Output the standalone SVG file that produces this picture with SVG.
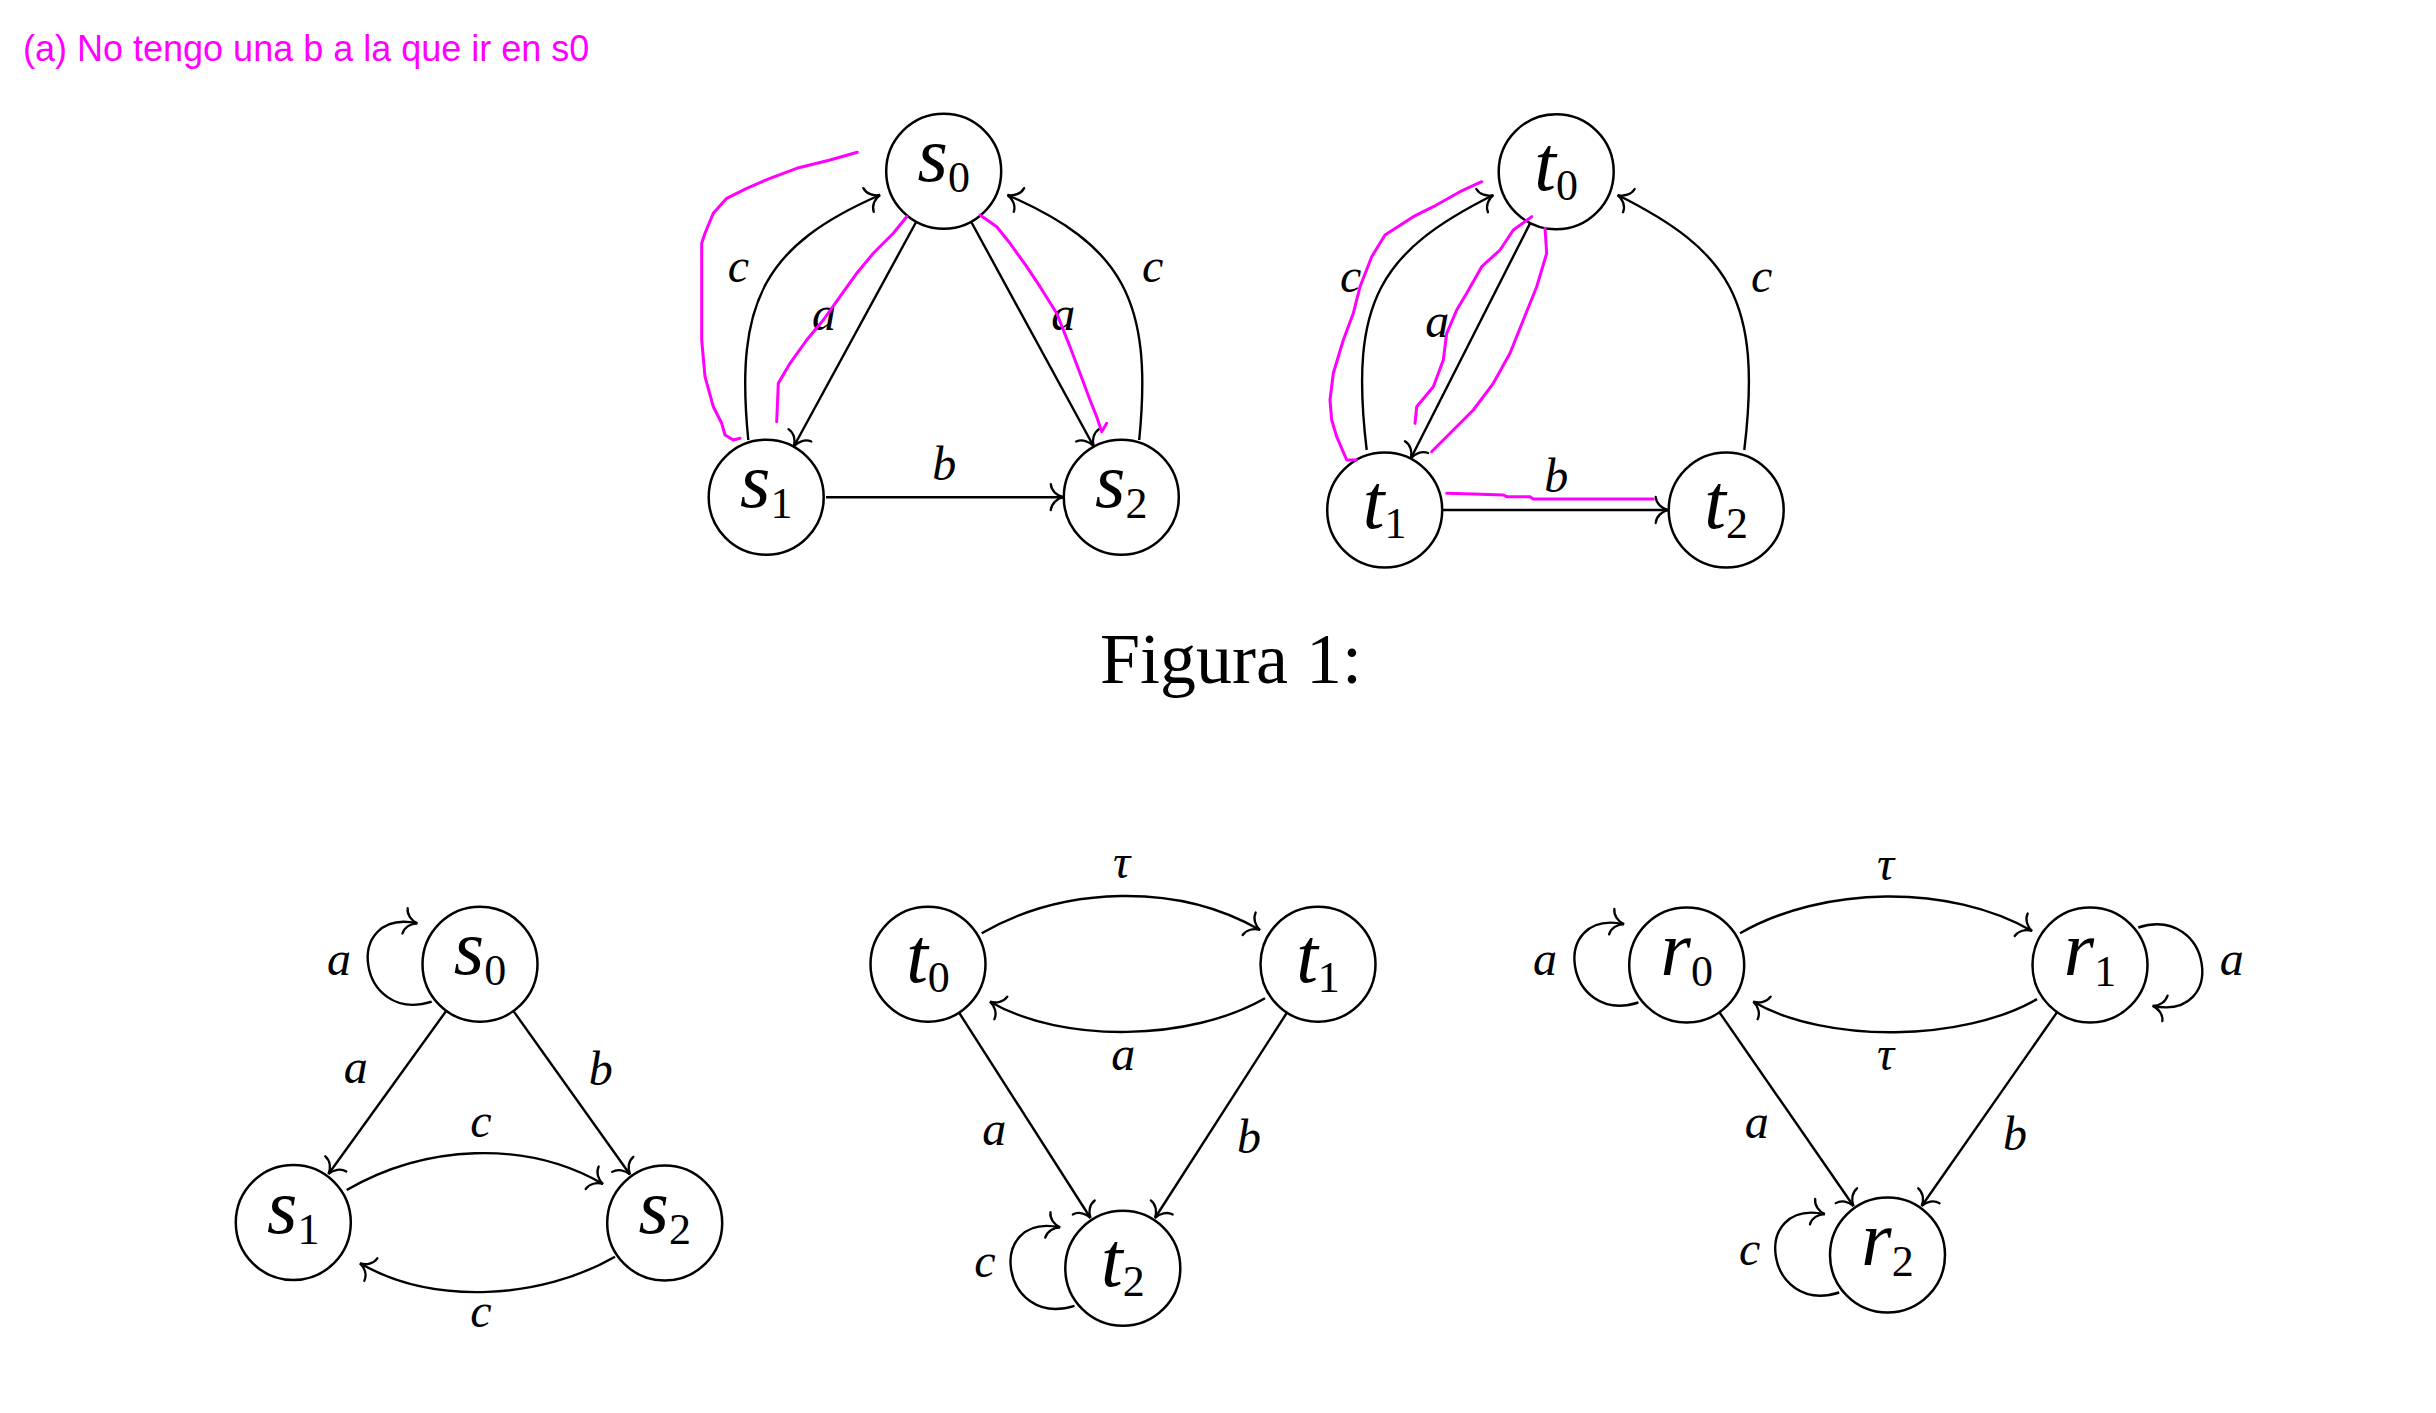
<svg xmlns="http://www.w3.org/2000/svg" width="2436" height="1413" viewBox="0 0 2436 1413">
<style>
.node circle{fill:#fff;stroke:#000;stroke-width:2.5}
.nl{font-family:"Liberation Serif",serif;font-style:italic;font-size:78px;fill:#000}
.sub{font-style:normal;font-size:44px}
.el{font-family:"Liberation Serif",serif;font-style:italic;font-size:48px;fill:#000;text-anchor:middle}
.edge{fill:none;stroke:#000;stroke-width:2.4;marker-end:url(#arr)}
.mag{fill:none;stroke:#ff00ff;stroke-width:3;stroke-linejoin:round;stroke-linecap:round}
</style>
<defs>
<marker id="arr" markerUnits="userSpaceOnUse" viewBox="-16 -16 20 32" refX="0" refY="0" markerWidth="20" markerHeight="32" orient="auto" overflow="visible">
<path d="M-12.5,-13 C-12,-6.5 -6.5,-1.5 0,0 C-6.5,1.5 -12,6.5 -12.5,13" fill="none" stroke="#000" stroke-width="2.3" stroke-linecap="round"/>
</marker>
</defs>
<rect width="2436" height="1413" fill="#fff"/>
<text x="23" y="61" font-family="Liberation Sans, Arial, sans-serif" font-size="36" fill="#ff00ff">(a) No tengo una b a la que ir en s0</text>
<text x="1100" y="683" font-family="Liberation Serif, serif" font-size="72" fill="#000">Figura 1:</text>

<g id="connectors">
<!-- top left -->
<path class="edge" d="M916,222.2 L793.9,446.3"/>
<path class="edge" d="M971.4,222.2 L1093.6,446.3"/>
<path class="edge" d="M826,497.2 L1063.3,497.2"/>
<path class="edge" d="M748.3,440 C734.3,300 765.5,245 880,195"/>
<path class="edge" d="M1139.2,440 C1153.2,300 1122,245 1007.5,195"/>
<!-- top right -->
<path class="edge" d="M1366.7,450 C1348.7,300 1381.5,251 1493.3,195"/>
<path class="edge" d="M1530,223.4 L1410.9,458.3"/>
<path class="edge" d="M1744.3,450 C1762.3,300 1729.5,251 1617.7,195"/>
<path class="edge" d="M1442.7,510 L1668.2,510"/>
<!-- bottom left -->
<path class="edge" d="M431.7,1001.7 C357.6,1025.1 341.6,907.7 417.3,923.3"/>
<path class="edge" d="M446,1011.2 L328.5,1174"/>
<path class="edge" d="M513.7,1011.4 L630,1174.5"/>
<path class="edge" d="M346.7,1190 C424.6,1145 525.1,1139 603,1184"/>
<path class="edge" d="M615,1256.7 C541.4,1299.2 433.6,1305.8 360,1263.3"/>
<!-- bottom middle -->
<path class="edge" d="M981.7,933.3 C1064,885.8 1177.7,882.5 1260,930"/>
<path class="edge" d="M1265,998.3 C1191.4,1040.8 1063.6,1044.2 990,1001.7"/>
<path class="edge" d="M959.3,1013 L1090.5,1218"/>
<path class="edge" d="M1286.7,1013 L1155,1218"/>
<path class="edge" d="M1074.5,1305.8 C1000.4,1329.2 984.4,1211.8 1060.1,1227.4"/>
<!-- bottom right -->
<path class="edge" d="M1638.4,1002.5 C1564.3,1025.9 1548.3,908.5 1624,924.1"/>
<path class="edge" d="M2138.3,927.5 C2212.4,904.1 2228.4,1021.5 2152.7,1005.9"/>
<path class="edge" d="M1839.2,1292.5 C1765.1,1315.9 1749.1,1198.5 1824.8,1214.1"/>
<path class="edge" d="M1740,933.3 C1822.3,885.8 1949.7,883.5 2032,931"/>
<path class="edge" d="M2037,999.1 C1963.4,1041.6 1826.9,1044.2 1753.3,1001.7"/>
<path class="edge" d="M1719.7,1012.7 L1853.5,1206"/>
<path class="edge" d="M2056.8,1012.6 L1921.7,1206"/>
</g>

<g id="nodes">
<g id="top-s0" class="node"><circle cx="943.7" cy="171.3" r="57.5"/><text class="nl" x="943.7" y="181.3" text-anchor="middle">s<tspan class="sub" dy="11">0</tspan></text></g>
<g id="top-s1" class="node"><circle cx="766.2" cy="497.2" r="57.5"/><text class="nl" x="766.2" y="507.2" text-anchor="middle">s<tspan class="sub" dy="11">1</tspan></text></g>
<g id="top-s2" class="node"><circle cx="1121.3" cy="497.2" r="57.5"/><text class="nl" x="1121.3" y="507.2" text-anchor="middle">s<tspan class="sub" dy="11">2</tspan></text></g>
<g id="top-t0" class="node"><circle cx="1556.2" cy="171.7" r="57.5"/><text class="nl" x="1556.2" y="189.7" text-anchor="middle">t<tspan class="sub" dy="10">0</tspan></text></g>
<g id="top-t1" class="node"><circle cx="1384.7" cy="510" r="57.5"/><text class="nl" x="1384.7" y="528" text-anchor="middle">t<tspan class="sub" dy="10">1</tspan></text></g>
<g id="top-t2" class="node"><circle cx="1726.2" cy="510" r="57.5"/><text class="nl" x="1726.2" y="528" text-anchor="middle">t<tspan class="sub" dy="10">2</tspan></text></g>
<g id="bot-s0" class="node"><circle cx="480" cy="964.2" r="57.5"/><text class="nl" x="480" y="974.2" text-anchor="middle">s<tspan class="sub" dy="11">0</tspan></text></g>
<g id="bot-s1" class="node"><circle cx="293.3" cy="1222.5" r="57.5"/><text class="nl" x="293.3" y="1232.5" text-anchor="middle">s<tspan class="sub" dy="11">1</tspan></text></g>
<g id="bot-s2" class="node"><circle cx="664.7" cy="1223" r="57.5"/><text class="nl" x="664.7" y="1233" text-anchor="middle">s<tspan class="sub" dy="11">2</tspan></text></g>
<g id="bot-t0" class="node"><circle cx="928" cy="964.2" r="57.5"/><text class="nl" x="928" y="982.2" text-anchor="middle">t<tspan class="sub" dy="10">0</tspan></text></g>
<g id="bot-t1" class="node"><circle cx="1318" cy="964.2" r="57.5"/><text class="nl" x="1318" y="982.2" text-anchor="middle">t<tspan class="sub" dy="10">1</tspan></text></g>
<g id="bot-t2" class="node"><circle cx="1122.8" cy="1268.3" r="57.5"/><text class="nl" x="1122.8" y="1286.3" text-anchor="middle">t<tspan class="sub" dy="10">2</tspan></text></g>
<g id="bot-r0" class="node"><circle cx="1686.7" cy="965" r="57.5"/><text class="nl" x="1686.7" y="975" text-anchor="middle">r<tspan class="sub" dy="11">0</tspan></text></g>
<g id="bot-r1" class="node"><circle cx="2090" cy="965" r="57.5"/><text class="nl" x="2090" y="975" text-anchor="middle">r<tspan class="sub" dy="11">1</tspan></text></g>
<g id="bot-r2" class="node"><circle cx="1887.5" cy="1255" r="57.5"/><text class="nl" x="1887.5" y="1265" text-anchor="middle">r<tspan class="sub" dy="11">2</tspan></text></g>
</g>

<g id="edge-labels">
<text class="el" x="738.3" y="281.7">c</text>
<text class="el" x="824" y="330">a</text>
<text class="el" x="1063.3" y="330">a</text>
<text class="el" x="1152.7" y="281.7">c</text>
<text class="el" x="944.3" y="480">b</text>
<text class="el" x="1350.7" y="291.7">c</text>
<text class="el" x="1437.3" y="337.3">a</text>
<text class="el" x="1761.7" y="291.7">c</text>
<text class="el" x="1556.3" y="491.7">b</text>
<text class="el" x="339" y="975">a</text>
<text class="el" x="355.7" y="1083.3">a</text>
<text class="el" x="600.7" y="1085">b</text>
<text class="el" x="481" y="1136.7">c</text>
<text class="el" x="481" y="1326.7">c</text>
<text class="el" x="1121.7" y="878.3">τ</text>
<text class="el" x="1123.3" y="1070">a</text>
<text class="el" x="994.3" y="1145">a</text>
<text class="el" x="1249" y="1153.3">b</text>
<text class="el" x="985" y="1276.7">c</text>
<text class="el" x="1545" y="975">a</text>
<text class="el" x="1885.7" y="880">τ</text>
<text class="el" x="1885.7" y="1070">τ</text>
<text class="el" x="1756.7" y="1138.3">a</text>
<text class="el" x="2015" y="1150">b</text>
<text class="el" x="1749.7" y="1265">c</text>
<text class="el" x="2231.7" y="975">a</text>
</g>

<g id="annotations">
<polyline class="mag" points="857.3,152.3 830,160 796.7,168.3 770,178.3 746.7,188.3 726.7,198.3 713.3,213.3 705,233.3 701.7,243.3 701.7,340 705,376.7 713.3,406.7 721.7,423.3 725,435 733.3,440 740,438.3"/>
<polyline class="mag" points="906.7,216.7 893.3,233.3 873.3,253.3 856.7,273.3 840,296.7 823.3,320 806.7,340 790,363.3 778.3,383.3 776.7,421.7"/>
<polyline class="mag" points="980,215 996.7,226.7 1010,243.3 1026.7,266.7 1040,286.7 1056.7,313.3 1070,346.7 1080,373.3 1090,400 1096.7,416.7 1101.7,431.7 1106.7,423.3"/>
<polyline class="mag" points="1481.7,181.7 1460,191.7 1433.3,206.7 1413.3,216.7 1385,235 1371.7,256.7 1360,286.7 1353.3,313.3 1343.3,340 1333.3,373.3 1330,400 1331.7,420 1336.7,436.7 1346.7,460 1356.7,460"/>
<polyline class="mag" points="1531.7,216.7 1513.3,230 1500,250 1481.7,266.7 1466.7,293.3 1456.7,310 1446.7,333.3 1443.3,360 1433.3,386.7 1416.7,406.7 1415,423.3"/>
<polyline class="mag" points="1545,228.3 1546.7,253.3 1536.7,286.7 1523.3,320 1510,353.3 1493.3,383.3 1473.3,410 1453.3,430 1433.3,450 1431.7,451.7"/>
<polyline class="mag" points="1446.7,493.3 1473.3,494 1503.3,495 1506.7,496.7 1530,496.7 1533.3,499 1653.3,499"/>
</g>
</svg>
